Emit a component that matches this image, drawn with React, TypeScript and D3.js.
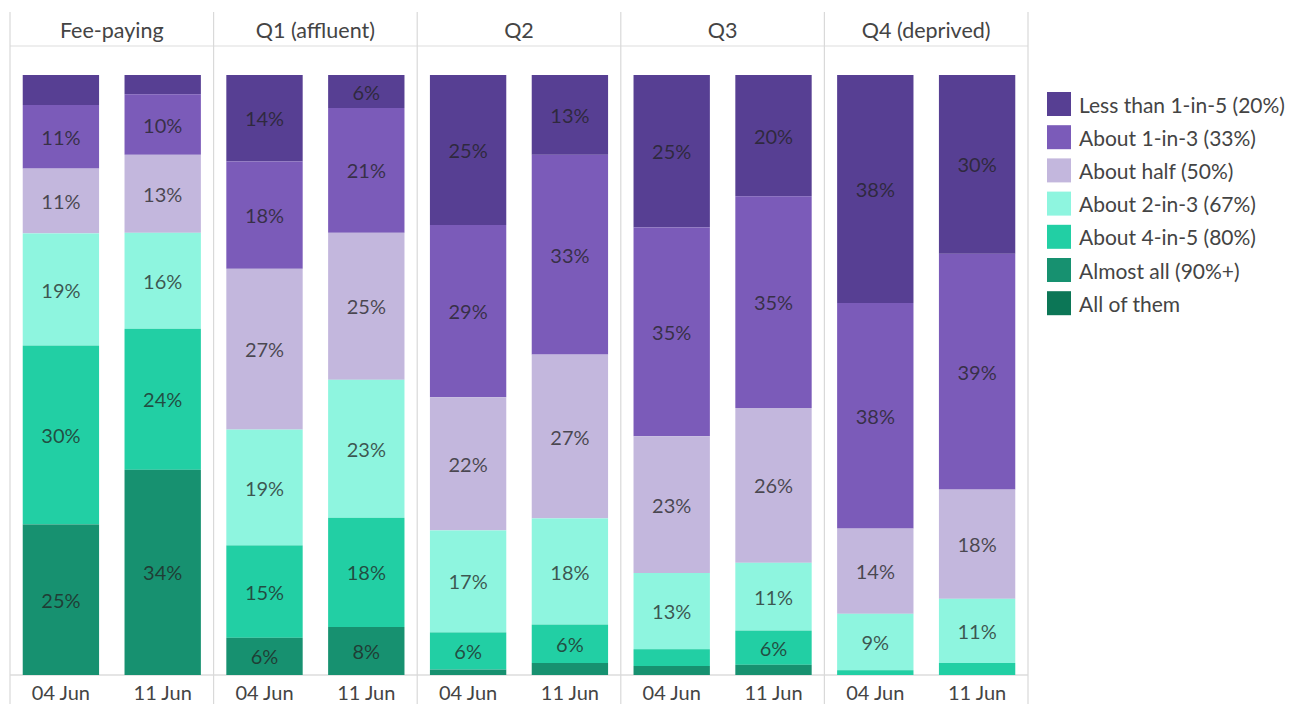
import React from "react";
import * as d3 from "d3";

const facets = ["Fee-paying", "Q1 (affluent)", "Q2", "Q3", "Q4 (deprived)"];
const dates = ["04 Jun", "11 Jun"];
const categories = [
  "Less than 1-in-5 (20%)",
  "About 1-in-3 (33%)",
  "About half (50%)",
  "About 2-in-3 (67%)",
  "About 4-in-5 (80%)",
  "Almost all (90%+)",
  "All of them",
];
const colors = ["#573f93", "#7b5bb9", "#c3b7dd", "#8ef5df", "#22cfa4", "#179170", "#0c7656"];

// values per facet, per date, per category (top -> bottom)
const feePaying = [
  [5, 10.6, 10.8, 18.7, 29.8, 25.1, 0],
  [3.2, 10.1, 13, 16, 23.5, 34.2, 0],
];
const q1 = [
  [14.4, 17.9, 26.8, 19.3, 15.4, 6.2, 0],
  [5.5, 20.8, 24.5, 23, 18.2, 8, 0],
];
const q2 = [
  [25, 28.7, 22.2, 17, 6.2, 0.9, 0],
  [13.3, 33.3, 27.3, 17.7, 6.4, 2.0, 0],
];
const q3 = [
  [25.4, 34.8, 22.8, 12.7, 2.8, 1.5, 0],
  [20.2, 35.3, 25.8, 11.3, 5.7, 1.7, 0],
];
const q4 = [
  [38, 37.6, 14.2, 9.4, 0.8, 0, 0],
  [29.8, 39.3, 18.2, 10.7, 2, 0, 0],
];
const facetValues = [feePaying, q1, q2, q3, q4];

const W = 1289;
const H = 704;
const left = 10;
const right = 1028;
const headerTop = 12;
const headerBottom = 46;
const plotTop = 75;
const plotBottom = 675;
const font = "Lato, 'Open Sans', sans-serif";

export default function App() {
  const fx = d3.scaleBand<string>().domain(facets).range([left, right]);
  const x = d3
    .scaleBand<string>()
    .domain(dates)
    .range([0, fx.bandwidth()])
    .paddingInner(0.25)
    .paddingOuter(0.125);
  const y = d3.scaleLinear().domain([0, 100]).range([plotTop, plotBottom]);

  return (
    <svg
      width={W}
      height={H}
      style={{ position: "absolute", left: 0, top: 0, background: "#fff" }}
    >
      <line x1={left} x2={right} y1={headerBottom} y2={headerBottom} stroke="#ddd" strokeWidth={1.2} />
      <line x1={left} x2={right} y1={plotBottom} y2={plotBottom} stroke="#ccc" strokeWidth={1.2} />
      {[...facets.map((f) => fx(f)!), right].map((xx, i) => (
        <line key={i} x1={xx} x2={xx} y1={headerTop} y2={H} stroke="#d9d9d9" strokeWidth={1.2} />
      ))}
      {facets.map((f, fi) => {
        const fx0 = fx(f)!;
        return (
          <g key={f}>
            <text
              x={fx0 + fx.bandwidth() / 2}
              y={30}
              textAnchor="middle"
              dominantBaseline="central"
              fontFamily={font}
              fontSize={21.5}
              fill="#444"
            >
              {f}
            </text>
            {dates.map((d, di) => {
              const vals = facetValues[fi][di];
              let cum = 0;
              const bx = fx0 + x(d)!;
              return (
                <g key={d}>
                  {vals.map((v, ci) => {
                    const y0 = y(cum);
                    cum += v;
                    const y1 = y(cum);
                    if (v <= 0) return null;
                    return (
                      <g key={ci}>
                        <rect x={bx} y={y0} width={x.bandwidth()} height={y1 - y0} fill={colors[ci]} />
                        {v >= 5.5 && (
                          <text
                            x={bx + x.bandwidth() / 2}
                            y={(y0 + y1) / 2}
                            textAnchor="middle"
                            dominantBaseline="central"
                            fontFamily={font}
                            fontSize={20}
                            fill="#222"
                            fillOpacity={0.75}
                          >
                            {Math.round(v)}%
                          </text>
                        )}
                      </g>
                    );
                  })}
                  <text
                    x={bx + x.bandwidth() / 2}
                    y={700}
                    textAnchor="middle"
                    fontFamily={font}
                    fontSize={20}
                    fill="#444"
                  >
                    {d}
                  </text>
                </g>
              );
            })}
          </g>
        );
      })}
      {categories.map((c, i) => {
        const cy = 104 + i * 33.2;
        return (
          <g key={c}>
            <rect x={1047} y={cy - 12} width={24} height={24} fill={colors[i]} />
            <text x={1079} y={cy} dominantBaseline="central" fontFamily={font} fontSize={21} fill="#444">
              {c}
            </text>
          </g>
        );
      })}
    </svg>
  );
}
